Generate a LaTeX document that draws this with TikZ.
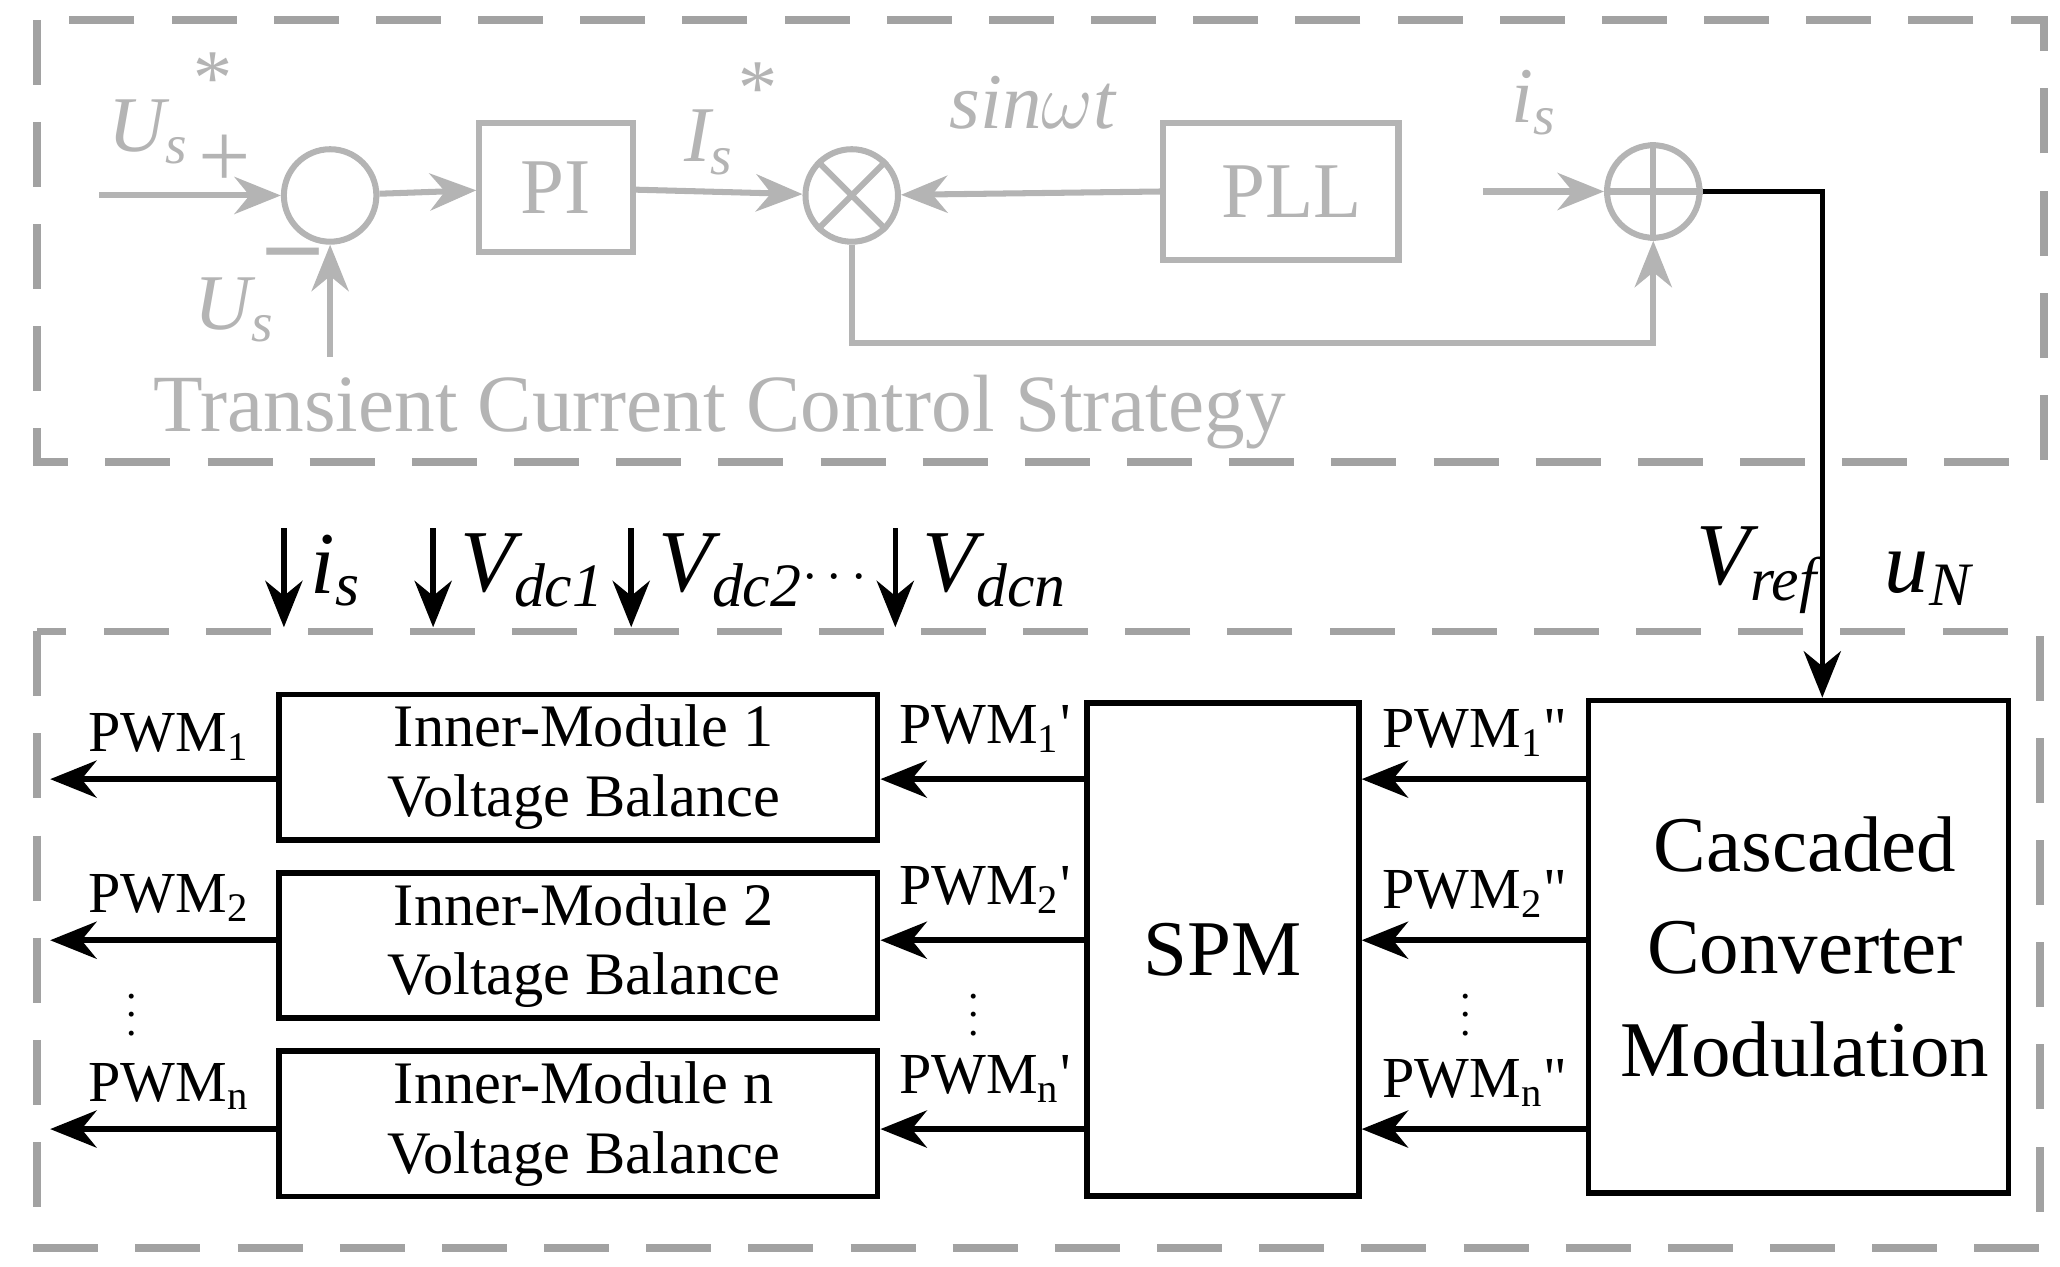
\documentclass[tikz,border=0pt]{standalone}
\usepackage{fontspec}
\setmainfont{Liberation Serif}
\usetikzlibrary{arrows.meta}
\definecolor{lg}{HTML}{B4B4B4}
\begin{document}
\begin{tikzpicture}[x=0.01cm,y=-0.01cm,
  blk/.style={draw,line width=1.2pt,inner sep=0},
  gblk/.style={draw=lg,line width=1.3pt,inner sep=0},
  arr/.style={line width=1.2pt,-{Stealth[length=10pt,width=8pt]}},
  garr/.style={draw=lg,line width=1.3pt,-{Stealth[length=10pt,width=8pt]}},
  dbox/.style={draw=lg!90!black,line width=1.6pt,dash pattern=on 14pt off 8pt},
  gt/.style={text=lg,font=\fontsize{17}{19}\selectfont\itshape},
  bt/.style={font=\fontsize{13}{15}\selectfont,align=center},
  pt/.style={font=\fontsize{12.5}{14}\selectfont},
  vt/.style={font=\fontsize{19}{21}\selectfont\itshape,anchor=west}]
\useasboundingbox (0,0) rectangle (1560,959);
\draw[dbox] (28,15) rectangle (1548,350);
\draw[dbox] (28,478) rectangle (1545,945);
% top part
\node[gblk,circle,minimum size=0.7cm] (s1) at (250,148) {};
\coordinate (in1) at (75,148);
\coordinate (in2) at (250,270);
\draw[garr] (in1) -- (s1);
\draw[garr] (in2) -- (s1);
\node[gt] at (128,82) {U\textsubscript{s}\raisebox{1.3ex}{*}};
\node[text=lg,font=\fontsize{20}{20}\selectfont] at (170,122) {+};
\node[gt] at (178,235) {U\textsubscript{s}};
\node[text=lg,font=\fontsize{22}{20}\selectfont\bfseries] at (222,198) {--};
\node[gblk,minimum width=1.16cm,minimum height=0.98cm] (pi) at (421,142) {};
\node[text=lg,font=\fontsize{17}{19}\selectfont] at (421,142) {PI};
\draw[garr] (s1) -- (pi);
\node[gblk,circle,minimum size=0.7cm] (m) at (645,148) {};
\draw[lg,line width=1.3pt] (m.north west) -- (m.south east) (m.north east) -- (m.south west);
\draw[garr] (pi) -- (m);
\node[gt] at (552,90) {I\textsubscript{s}\raisebox{1.3ex}{*}};
\node[gblk,minimum width=1.78cm,minimum height=1.04cm] (pll) at (970,145) {};
\node[text=lg,font=\fontsize{17}{19}\selectfont] at (978,145) {PLL};
\draw[garr] (pll.west) -- (m);
\node[gt] at (782,78) {sin$\omega$t};
\node[gblk,circle,minimum size=0.7cm] (s2) at (1252,145) {};
\draw[lg,line width=1.3pt] (s2.north) -- (s2.south) (s2.west) -- (s2.east);
\coordinate (in3) at (1123,145);
\draw[garr] (in3) -- (s2);
\node[gt] at (1162,78) {i\textsubscript{s}};
\draw[garr] (m.south) |- (1252,260) -- (s2.south);
\node[text=lg,font=\fontsize{17.5}{20}\selectfont] at (545,312) {Transient Current Control Strategy};
% bottom
\node[blk,minimum width=3.18cm,minimum height=3.73cm] (cc) at (1362,717) {};
\node[font=\fontsize{17}{22}\selectfont,align=center] at (1367,717) {Cascaded\\Converter\\Modulation};
\draw[arr] (s2.east) -| (cc.north -| 1380,0);
\node[vt] at (1272,432) {V\textsubscript{ref}};
\node[vt] at (1415,438) {u\textsubscript{N}};
\node[blk,minimum width=2.06cm,minimum height=3.73cm] (spm) at (926,719) {};
\node[font=\fontsize{17}{19}\selectfont] at (926,719) {SPM};
\foreach \i/\yc/\ya/\lab in {1/581/590/1,2/716/712/2,3/851/855/n}{
  \node[blk,minimum width=4.53cm,minimum height=1.1cm] (b\i) at (438,\yc) {};
  \node[bt] at (442,\yc) {Inner-Module \lab\\Voltage Balance};
  \coordinate (o\i) at (38,\ya);
  \draw[arr] (b\i.west |- 0,\ya) -- (o\i);
  \draw[arr] (spm.west |- 0,\ya) -- (b\i.east |- 0,\ya);
  \draw[arr] (cc.west |- 0,\ya) -- (spm.east |- 0,\ya);
  \node[pt] at (128,\ya-32) {PWM\textsubscript{\lab}};
  \node[pt] at (746,\ya-38) {PWM\textsubscript{\lab}\textquotesingle};
  \node[pt] at (1117,\ya-35) {PWM\textsubscript{\lab}\textquotedbl};
}
\foreach \x in {100,737,1110} \node[font=\fontsize{9}{9}\selectfont,inner sep=0] at (\x,758) {$\vdots$};
\foreach \x/\n/\l in {215/is/{i\textsubscript{s}},328/v1/{V\textsubscript{dc1}},478/v2/{V\textsubscript{dc2}},678/vn/{V\textsubscript{dcn}}}{
  \coordinate (\n) at (\x,400);
  \draw[arr] (\n) -- (\x,475);
  \node[vt] at (\x+8,432) {\l};
}
\node[font=\fontsize{12}{12}\selectfont] at (632,438) {$\cdots$};
\end{tikzpicture}
\end{document}
